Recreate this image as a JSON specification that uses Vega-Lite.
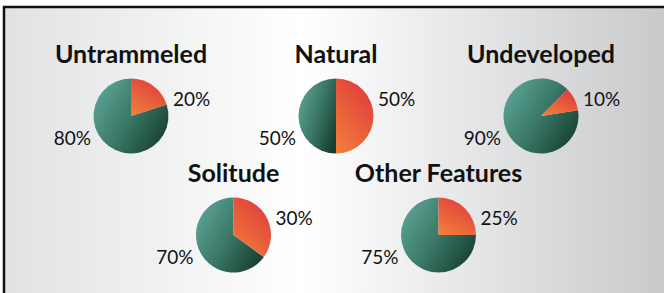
{
  "$schema": "https://vega.github.io/schema/vega-lite/v6.json",
  "width": 664,
  "height": 293,
  "autosize": {"type": "fit", "contains": "padding"},
  "padding": {"left": 4, "top": 7, "right": -3, "bottom": -3},
  "background": "#ffffff",
  "config": {
    "view": {
      "stroke": "#111111",
      "strokeWidth": 2.5,
      "fill": {
        "gradient": "linear",
        "x1": 0, "y1": 0, "x2": 1, "y2": 0,
        "stops": [
          {"offset": 0, "color": "#e1e2e3"},
          {"offset": 0.45, "color": "#ffffff"},
          {"offset": 1, "color": "#c8c9cb"}
        ]
      }
    },
    "text": {"font": "Lato", "color": "#111111"}
  },
  "data": {
    "values": [
      {"name": "Untrammeled", "row": "top", "slice": "other", "start": 20, "end": 100, "label": "80%"},
      {"name": "Untrammeled", "row": "top", "slice": "quality", "start": 0, "end": 20, "label": "20%"},
      {"name": "Natural", "row": "top", "slice": "other", "start": 50, "end": 100, "label": "50%"},
      {"name": "Natural", "row": "top", "slice": "quality", "start": 0, "end": 50, "label": "50%"},
      {"name": "Undeveloped", "row": "top", "slice": "other", "start": 22.5, "end": 112.5, "label": "90%"},
      {"name": "Undeveloped", "row": "top", "slice": "quality", "start": 12.5, "end": 22.5, "label": "10%"},
      {"name": "Solitude", "row": "bottom", "slice": "other", "start": 35, "end": 100, "label": "70%"},
      {"name": "Solitude", "row": "bottom", "slice": "quality", "start": 0, "end": 35, "label": "30%"},
      {"name": "Other Features", "row": "bottom", "slice": "other", "start": 25, "end": 100, "label": "75%"},
      {"name": "Other Features", "row": "bottom", "slice": "quality", "start": 0, "end": 25, "label": "25%"}
    ]
  },
  "encoding": {
    "x": {
      "field": "name", "type": "nominal", "axis": null,
      "scale": {"type": "point", "padding": 0, "domain": ["Untrammeled", "Solitude", "Natural", "Other Features", "Undeveloped"], "range": [127, 537]}
    },
    "y": {
      "field": "row", "type": "nominal", "axis": null,
      "scale": {"type": "point", "padding": 0, "domain": ["top", "bottom"], "range": [109, 228]}
    }
  },
  "layer": [
    {
      "transform": [{"filter": "datum.slice === 'other'"}],
      "mark": {
        "type": "arc", "outerRadius": 37.5,
        "fill": {
          "gradient": "linear", "x1": 0, "y1": 0.2, "x2": 1, "y2": 0.8,
          "stops": [
            {"offset": 0, "color": "#5ca596"},
            {"offset": 0.5, "color": "#3a7766"},
            {"offset": 1, "color": "#163e2f"}
          ]
        }
      },
      "encoding": {
        "theta": {"field": "start", "type": "quantitative", "scale": {"domain": [0, 100], "range": [0, 6.283185307]}},
        "theta2": {"field": "end"}
      }
    },
    {
      "transform": [{"filter": "datum.slice === 'quality'"}],
      "mark": {
        "type": "arc", "outerRadius": 37.5,
        "fill": {
          "gradient": "linear", "x1": 0.8, "y1": 0, "x2": 0.2, "y2": 1,
          "stops": [
            {"offset": 0, "color": "#df3a3c"},
            {"offset": 1, "color": "#f07c3a"}
          ]
        }
      },
      "encoding": {
        "theta": {"field": "start", "type": "quantitative"},
        "theta2": {"field": "end"}
      }
    },
    {
      "transform": [{"filter": "datum.slice === 'quality'"}],
      "mark": {"type": "text", "fontSize": 25, "fontWeight": "bold", "dy": -53, "baseline": "alphabetic", "align": "center"},
      "encoding": {"text": {"field": "name"}}
    },
    {
      "transform": [{"filter": "datum.slice === 'quality'"}],
      "mark": {"type": "text", "fontSize": 19, "dx": 42, "dy": -16, "baseline": "middle", "align": "left"},
      "encoding": {"text": {"field": "label"}}
    },
    {
      "transform": [{"filter": "datum.slice === 'other'"}],
      "mark": {"type": "text", "fontSize": 19, "dx": -40, "dy": 23, "baseline": "middle", "align": "right"},
      "encoding": {"text": {"field": "label"}}
    }
  ]
}
